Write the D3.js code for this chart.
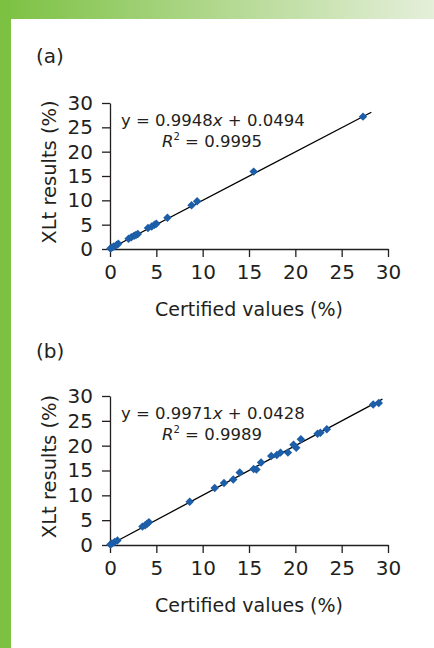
<!DOCTYPE html>
<html>
<head>
<meta charset="utf-8">
<script src="https://cdn.jsdelivr.net/npm/d3@7"></script>
<style>
body { margin: 0; background: #fff; }
text { font-family: "DejaVu Sans", sans-serif; fill: #231f20; }
</style>
</head>
<body>
<script>
// data: [certified, XLt]
var pointsA = [[0.05,0.1],[0.2,0.3],[0.4,0.5],[0.7,0.8],[0.9,1.1],[2.0,2.1],[2.3,2.4],[2.6,2.7],
	[2.8,2.9],[3.0,3.1],[4.1,4.3],[4.5,4.6],[4.8,5.0],[5.0,5.2],[6.2,6.4],[8.8,9.0],[9.4,9.8],
	[15.5,15.9],[27.3,27.2]];
var pointsB = [[0.05,0.1],[0.2,0.3],[0.5,0.6],[0.8,0.9],[3.5,3.7],[3.8,4.0],[4.0,4.3],[4.2,4.6],
	[8.6,8.7],[11.3,11.5],[12.3,12.5],[13.3,13.2],[14.0,14.6],[15.5,15.3],[15.8,15.2],[16.3,16.6],
	[17.4,17.9],[18.0,18.1],[18.4,18.6],[19.2,18.6],[19.8,20.2],[20.1,19.6],[20.6,21.3],[22.4,22.4],
	[22.7,22.6],[23.4,23.3],[28.4,28.3],[29.0,28.6]];
var fitA = { slope: 0.9948, intercept: 0.0494, r2: "0.9995", xEnd: 28.2 };
var fitB = { slope: 0.9971, intercept: 0.0428, r2: "0.9989", xEnd: 29.4 };
var xTicks = [0, 5, 10, 15, 20, 25, 30];
var yTicks = [0, 5, 10, 15, 20, 25, 30];
var xTitle = "Certified values (%)";
var yTitle = "XLt results (%)";

var W = 434, H = 648;
var svg = d3.select("body").append("svg").attr("width", W).attr("height", H);

// green frame
var grad = svg.append("defs").append("linearGradient").attr("id", "topGrad");
grad.append("stop").attr("offset", "0%").attr("stop-color", "#7cc142");
grad.append("stop").attr("offset", "100%").attr("stop-color", "#e5efda");
svg.append("rect").attr("x", 0).attr("y", 0).attr("width", W).attr("height", 19).attr("fill", "url(#topGrad)");
svg.append("rect").attr("x", 0).attr("y", 0).attr("width", 11).attr("height", H).attr("fill", "#7cc142");

var panels = [
	{ label: "(a)", labelY: 63, top: 103, bottom: 249, points: pointsA, fit: fitA, eqY: 126 },
	{ label: "(b)", labelY: 358, top: 396, bottom: 545, points: pointsB, fit: fitB, eqY: 419 }
];

panels.forEach(function (p) {
	var x = d3.scaleLinear().domain([0, 30]).range([110, 388]);
	var y = d3.scaleLinear().domain([0, 30]).range([p.bottom, p.top]);
	var g = svg.append("g");

	g.append("text").attr("x", 36).attr("y", p.labelY).attr("font-size", 20).text(p.label);

	var xa = g.append("g").attr("transform", "translate(0," + p.bottom + ")")
		.call(d3.axisBottom(x).tickValues(xTicks).tickSize(8).tickSizeOuter(0).tickPadding(8));
	var ya = g.append("g").attr("transform", "translate(110,0)")
		.call(d3.axisLeft(y).tickValues(yTicks).tickSize(8).tickSizeOuter(0).tickPadding(9));
	[xa, ya].forEach(function (a) {
		a.selectAll("path, line").attr("stroke", "#231f20").attr("stroke-width", 1.3);
		a.selectAll("text").attr("font-size", 20).attr("font-family", "DejaVu Sans").attr("fill", "#231f20");
	});

	g.append("text").attr("x", 249).attr("y", p.bottom + 67).attr("text-anchor", "middle")
		.attr("font-size", 19).text(xTitle);
	g.append("text").attr("transform", "translate(56," + ((p.top + p.bottom) / 2 - 4) + ") rotate(-90)")
		.attr("text-anchor", "middle").attr("font-size", 19.5).text(yTitle);

	// trend line
	var f = p.fit;
	g.append("line")
		.attr("x1", x(0)).attr("y1", y(f.intercept))
		.attr("x2", x(f.xEnd)).attr("y2", y(f.slope * f.xEnd + f.intercept))
		.attr("stroke", "#000").attr("stroke-width", 1.3);

	g.selectAll(".pt").data(p.points).enter().append("path")
		.attr("class", "pt")
		.attr("d", d3.symbol().type(d3.symbolSquare).size(36))
		.attr("transform", function (d) { return "translate(" + x(d[0]) + "," + y(d[1]) + ") rotate(45)"; })
		.attr("fill", "#1d5ea8");

	var eq = g.append("text").attr("x", 121).attr("y", p.eqY).attr("font-size", 16.5).attr("fill", "#333");
	eq.append("tspan").text("y = " + f.slope + "");
	eq.append("tspan").attr("font-style", "italic").text("x");
	eq.append("tspan").text(" + " + f.intercept);
	var r = g.append("text").attr("x", 162).attr("y", p.eqY + 21).attr("font-size", 16.5).attr("fill", "#333");
	r.append("tspan").attr("font-style", "italic").text("R");
	r.append("tspan").attr("font-size", 10).attr("dy", -7).text("2");
	r.append("tspan").attr("dy", 7).text(" = " + f.r2);
});
</script>
</body>
</html>
